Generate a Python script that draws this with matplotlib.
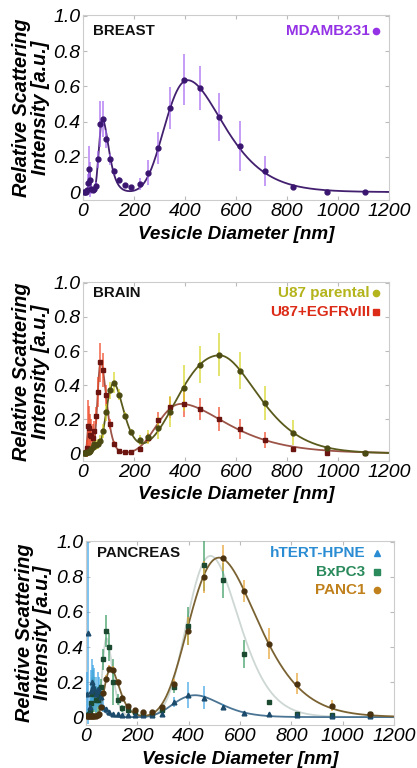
import numpy as np
import matplotlib
matplotlib.use("Agg")
import matplotlib.pyplot as plt

plt.rcParams['font.family'] = ['Liberation Sans', 'DejaVu Sans']

# ---------------- data ----------------
diameter_nm = [3, 6, 10, 14, 19, 24, 28, 33, 38, 45, 52, 59, 68, 78, 91, 104, 123,
               141, 163, 189, 222, 256, 296, 342, 397, 459, 533, 616, 713, 824, 957, 1107]

x_ticks = [0, 200, 400, 600, 800, 1000, 1200]
y_ticks = [0, 0.2, 0.4, 0.6, 0.8, 1.0]
y_tick_labels = ['0', '0.2', '0.4', '0.6', '0.8', '1.0']

# BREAST - MDAMB231
mdamb231_val = [0.0, 0.0, 0.0, 0.01, 0.05, 0.13, 0.07, 0.02, 0.01, 0.015, 0.035, 0.185,
                0.385, 0.415, 0.30, 0.185, 0.117, 0.068, 0.038, 0.026, 0.047, 0.11, 0.252,
                0.478, 0.638, 0.59, 0.425, 0.262, 0.12, 0.03, 0.003, 0.002]
mdamb231_err = [0.0, 0.0, 0.0, 0.01, 0.05, 0.13, 0.10, 0.03, 0.01, 0.01, 0.02, 0.05,
                0.13, 0.10, 0.05, 0.03, 0.02, 0.015, 0.01, 0.01, 0.035, 0.07, 0.09,
                0.12, 0.145, 0.125, 0.135, 0.14, 0.085, 0.01, 0.003, 0.002]
mdamb231_fit_center = [25, 76, 410]
mdamb231_fit_height = [0.13, 0.415, 0.635]
mdamb231_fit_sig_left = [0.10, 0.20, 0.24]
mdamb231_fit_sig_right = [0.12, 0.28, 0.295]

# BRAIN - U87 parental
u87p_val = [0.0, 0.0, 0.0, 0.005, 0.01, 0.01, 0.015, 0.025, 0.04, 0.055, 0.05, 0.055,
            0.075, 0.13, 0.24, 0.37, 0.415, 0.345, 0.22, 0.125, 0.08, 0.095, 0.15,
            0.245, 0.385, 0.52, 0.578, 0.485, 0.295, 0.12, 0.03, 0.0]
u87p_err = [0.0, 0.0, 0.005, 0.01, 0.02, 0.02, 0.02, 0.02, 0.02, 0.03, 0.03, 0.03,
            0.03, 0.04, 0.05, 0.05, 0.06, 0.03, 0.02, 0.02, 0.03, 0.04, 0.065,
            0.09, 0.135, 0.11, 0.125, 0.11, 0.10, 0.073, 0.012, 0.003]
u87p_fit_center = [45, 120, 535]
u87p_fit_height = [0.045, 0.41, 0.575]
u87p_fit_sig_left = [0.30, 0.27, 0.345]
u87p_fit_sig_right = [0.30, 0.285, 0.245]

# BRAIN - U87+EGFRvIII
u87e_val = [0.0, 0.0, 0.005, 0.03, 0.16, 0.15, 0.11, 0.10, 0.09, 0.13, 0.22, 0.36,
            0.535, 0.49, 0.34, 0.17, 0.055, 0.016, 0.007, 0.007, 0.025, 0.09, 0.195,
            0.27, 0.29, 0.26, 0.20, 0.142, 0.078, 0.025, 0.003, 0.0]
u87e_err = [0.0, 0.0, 0.01, 0.05, 0.15, 0.13, 0.12, 0.10, 0.08, 0.06, 0.05, 0.09,
            0.115, 0.10, 0.06, 0.03, 0.015, 0.01, 0.01, 0.01, 0.015, 0.03, 0.045,
            0.06, 0.075, 0.065, 0.07, 0.06, 0.045, 0.012, 0.003, 0.002]
u87e_fit_center = [21, 70, 385]
u87e_fit_height = [0.15, 0.535, 0.29]
u87e_fit_sig_left = [0.25, 0.20, 0.27]
u87e_fit_sig_right = [0.45, 0.265, 0.38]

# PANCREAS - hTERT-HPNE
htert_val = [0.13, 0.48, 0.02, 0.06, 0.15, 0.20, 0.18, 0.16, 0.13, 0.16, 0.15, 0.115,
             0.06, 0.045, 0.03, 0.02, 0.015, 0.012, 0.01, 0.01, 0.01, 0.01, 0.02,
             0.085, 0.125, 0.11, 0.06, 0.025, 0.018, 0.01, 0.005, 0.005]
htert_err = [0.13, 0.52, 0.02, 0.05, 0.12, 0.13, 0.12, 0.12, 0.10, 0.10, 0.08, 0.05,
             0.03, 0.015, 0.005, 0.005, 0.005, 0.005, 0.005, 0.005, 0.005, 0.005, 0.005,
             0.03, 0.075, 0.065, 0.012, 0.005, 0.005, 0.005, 0.003, 0.003]
htert_fit_center = [36, 425]
htert_fit_height = [0.17, 0.125]
htert_fit_sig_left = [0.45, 0.22]
htert_fit_sig_right = [0.40, 0.21]

# PANCREAS - BxPC3
bxpc3_val = [0.01, 0.01, 0.02, 0.03, 0.08, 0.13, 0.15, 0.13, 0.10, 0.10, 0.12, 0.17,
             0.33, 0.49, 0.40, 0.20, 0.10, 0.05, 0.04, 0.03, 0.02, 0.02, 0.04,
             0.17, 0.52, 0.87, 0.78, 0.36, 0.085, 0.02, 0.01, 0.02]
bxpc3_err = [0.01, 0.01, 0.02, 0.03, 0.06, 0.10, 0.12, 0.10, 0.08, 0.07, 0.06, 0.05,
             0.06, 0.09, 0.08, 0.13, 0.03, 0.02, 0.015, 0.01, 0.01, 0.01, 0.015,
             0.03, 0.11, 0.15, 0.10, 0.08, 0.015, 0.005, 0.005, 0.005]
bxpc3_fit_center = [80, 485]
bxpc3_fit_height = [0.45, 0.92]
bxpc3_fit_sig_left = [0.22, 0.205]
bxpc3_fit_sig_right = [0.25, 0.205]

# PANCREAS - PANC1
panc1_val = [0.005, 0.005, 0.005, 0.005, 0.005, 0.005, 0.005, 0.005, 0.005, 0.01, 0.02, 0.06,
             0.14, 0.22, 0.275, 0.27, 0.20, 0.11, 0.065, 0.04, 0.028, 0.03, 0.055,
             0.19, 0.49, 0.80, 0.91, 0.72, 0.42, 0.19, 0.065, 0.02]
panc1_err = [0.005, 0.005, 0.005, 0.005, 0.005, 0.005, 0.005, 0.005, 0.005, 0.005, 0.005, 0.01,
             0.015, 0.02, 0.02, 0.02, 0.015, 0.01, 0.01, 0.01, 0.01, 0.01, 0.01,
             0.03, 0.08, 0.09, 0.075, 0.065, 0.09, 0.06, 0.03, 0.012]
panc1_fit_center = [97, 518]
panc1_fit_height = [0.275, 0.91]
panc1_fit_sig_left = [0.30, 0.25]
panc1_fit_sig_right = [0.29, 0.255]


def fit_curve(xs, centers, heights, sl, sr):
    """Sum of split log-normal peaks (fitted model)."""
    lx = np.log(xs)
    y = np.zeros_like(xs, dtype=float)
    for c, h, a, b in zip(centers, heights, sl, sr):
        d = lx - np.log(c)
        s = np.where(d < 0, a, b)
        y += h * np.exp(-d ** 2 / (2 * s ** 2))
    return y


xfine = np.geomspace(1, 1200, 1500)

FIG_W, FIG_H = 417, 768
fig = plt.figure(figsize=(FIG_W / 100, FIG_H / 100), dpi=100)

axes_px = [  # left, right, top, bottom in pixels
    (83, 389, 15, 200),
    (83, 389, 282, 461),
    (86, 394, 541, 725),
]


def make_ax(lrtb):
    l, r, t, b = lrtb
    ax = fig.add_axes([l / FIG_W, 1 - b / FIG_H, (r - l) / FIG_W, (b - t) / FIG_H])
    ax.set_xlim(0, 1200)
    ax.set_ylim(-0.045, 1.005)
    ax.set_xticks(x_ticks)
    ax.set_yticks(y_ticks)
    ax.set_yticklabels(y_tick_labels)
    for s in ax.spines.values():
        s.set_color('#cccccc')
        s.set_linewidth(0.8)
    ax.tick_params(direction='in', length=3, color='#bbbbbb', top=True, right=True,
                   labelsize=14, pad=2)
    for lab in ax.get_xticklabels() + ax.get_yticklabels():
        lab.set_fontstyle('italic')
    ax.set_xlabel('Vesicle Diameter [nm]', fontsize=13.6, fontweight='bold', fontstyle='italic')
    ax.xaxis.set_label_coords(0.5, -0.185)
    ax.xaxis.label.set_verticalalignment('center')
    ax.set_ylabel('Relative Scattering\nIntensity [a.u.]', fontsize=14.3, fontstyle='italic',
                  fontweight='semibold', linespacing=0.95)
    ax.yaxis.set_label_coords(-0.17, 0.5)
    ax.yaxis.label.set_verticalalignment('center')
    return ax


def draw_series(ax, vals, errs, fitp, line_c, err_c, mk_c, marker, ms=3.5, lw=1.3):
    ax.plot(xfine, fit_curve(xfine, *fitp), color=line_c, lw=lw, zorder=2)
    ax.errorbar(diameter_nm, vals, yerr=errs, fmt='none', ecolor=err_c,
                elinewidth=1.1, alpha=0.85, zorder=3)
    ax.plot(diameter_nm, vals, linestyle='none', marker=marker, ms=ms, color=mk_c,
            mec=mk_c, zorder=4)


def legend_entry(ax, y, text, color, marker, x_text, x_mk, ms=4.5):
    ax.text(x_text, y, text, transform=ax.transAxes, ha='right', va='center',
            fontsize=11, fontweight='bold', color=color)
    ax.plot([x_mk], [y], transform=ax.transAxes, marker=marker, ms=ms, color=color,
            linestyle='none', clip_on=False)


# ---------- Panel 1: BREAST ----------
ax1 = make_ax(axes_px[0])
draw_series(ax1, mdamb231_val, mdamb231_err,
            (mdamb231_fit_center, mdamb231_fit_height, mdamb231_fit_sig_left, mdamb231_fit_sig_right),
            '#42206f', '#a86cf2', '#3a1670', 'o')
ax1.text(0.033, 0.914, 'BREAST', transform=ax1.transAxes, ha='left', va='center',
         fontsize=10.8, fontweight='bold', color='#111111')
legend_entry(ax1, 0.914, 'MDAMB231', '#9432e6', 'o', 0.938, 0.958)

# ---------- Panel 2: BRAIN ----------
ax2 = make_ax(axes_px[1])
draw_series(ax2, u87e_val, u87e_err,
            (u87e_fit_center, u87e_fit_height, u87e_fit_sig_left, u87e_fit_sig_right),
            '#9c5448', '#f04a28', '#6b1410', 's', ms=3.2)
draw_series(ax2, u87p_val, u87p_err,
            (u87p_fit_center, u87p_fit_height, u87p_fit_sig_left, u87p_fit_sig_right),
            '#5a5a1c', '#d6d626', '#4a4a12', 'o')
ax2.text(0.033, 0.939, 'BRAIN', transform=ax2.transAxes, ha='left', va='center',
         fontsize=10.8, fontweight='bold', color='#111111')
legend_entry(ax2, 0.939, 'U87 parental', '#b4b41c', 'o', 0.938, 0.958)
legend_entry(ax2, 0.832, 'U87+EGFRvIII', '#dc2c18', 's', 0.938, 0.958, ms=4.2)

# ---------- Panel 3: PANCREAS ----------
ax3 = make_ax(axes_px[2])
draw_series(ax3, bxpc3_val, bxpc3_err,
            (bxpc3_fit_center, bxpc3_fit_height, bxpc3_fit_sig_left, bxpc3_fit_sig_right),
            '#cdd7d3', '#3c9c62', '#1c4a30', 's', ms=3.2)
draw_series(ax3, htert_val, htert_err,
            (htert_fit_center, htert_fit_height, htert_fit_sig_left, htert_fit_sig_right),
            '#4a7494', '#42a6e6', '#1b4a6b', '^', ms=3.4)
draw_series(ax3, panc1_val, panc1_err,
            (panc1_fit_center, panc1_fit_height, panc1_fit_sig_left, panc1_fit_sig_right),
            '#7a6232', '#e8a232', '#4a3210', 'o')
ax3.text(0.036, 0.935, 'PANCREAS', transform=ax3.transAxes, ha='left', va='center',
         fontsize=10.8, fontweight='bold', color='#111111')
legend_entry(ax3, 0.935, 'hTERT-HPNE', '#2a8cd2', '^', 0.906, 0.945, ms=5)
legend_entry(ax3, 0.832, 'BxPC3', '#2a8a5c', 's', 0.906, 0.945, ms=4.2)
legend_entry(ax3, 0.734, 'PANC1', '#c0801c', 'o', 0.906, 0.945)

fig.savefig('out.png', dpi=100)
